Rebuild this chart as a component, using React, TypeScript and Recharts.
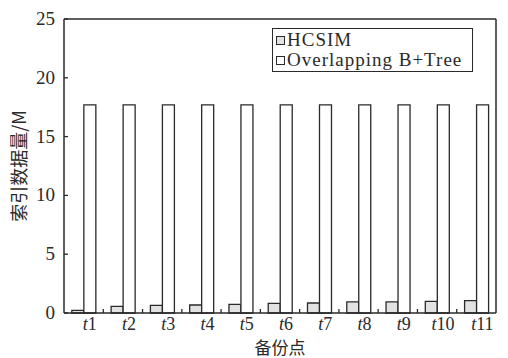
import React from 'react';
import {
  BarChart,
  Bar,
  XAxis,
  YAxis,
  ReferenceLine,
} from 'recharts';

const points = ['t1', 't2', 't3', 't4', 't5', 't6', 't7', 't8', 't9', 't10', 't11'];
const hcsim = [0.23, 0.57, 0.65, 0.68, 0.74, 0.82, 0.85, 0.94, 0.94, 0.99, 1.05];
const overlapping = [17.7, 17.7, 17.7, 17.7, 17.7, 17.7, 17.7, 17.7, 17.7, 17.7, 17.7];
const yTicks = [0, 5, 10, 15, 20, 25];

const data = points.map((name, i) => ({
  name,
  hcsim: hcsim[i],
  overlapping: overlapping[i],
}));

const SERIF = '"Liberation Serif", "DejaVu Serif", serif';
const CJK = '"Noto Sans CJK SC", sans-serif';
const INK = '#2a2a2a';

const CHART_W = 508;
const CHART_H = 358;
const MARGIN = { top: 19, right: 12, left: 0, bottom: 0 };
const Y_AXIS_W = 64;
const X_AXIS_H = 45;
const PLOT_W = CHART_W - MARGIN.left - MARGIN.right - Y_AXIS_W;
const PLOT_BOTTOM = CHART_H - MARGIN.bottom - X_AXIS_H;
const HALF_BAND = PLOT_W / points.length / 2;

// "t1" style labels: italic t followed by an upright number,
// plus a short inward mark on the boundary left of each point
const PointTick = (props: any) => {
  const { x, y, payload, index } = props;
  const label: string = payload.value;
  const bx = x - HALF_BAND;
  return (
    <g>
      {index > 0 && (
        <line x1={bx} x2={bx} y1={PLOT_BOTTOM} y2={PLOT_BOTTOM - 4} stroke={INK} strokeWidth={1.3} />
      )}
      <text x={x + 6} y={y + 9} textAnchor="middle" fontFamily={SERIF} fontSize={18} fill={INK}>
        <tspan fontStyle="italic">{label.charAt(0)}</tspan>
        <tspan>{label.slice(1)}</tspan>
      </text>
    </g>
  );
};

// value label plus an inward mark on the y axis
const ValueTick = (props: any) => {
  const { x, y, payload } = props;
  return (
    <g>
      <line x1={x} x2={x + 4} y1={y} y2={y} stroke={INK} strokeWidth={1.3} />
      <text x={x - 9} y={y + 6} textAnchor="end" fontFamily={SERIF} fontSize={19} fill={INK}>
        {payload.value}
      </text>
    </g>
  );
};

const legendItems = [
  { name: 'HCSIM', fill: '#e2e2e2' },
  { name: 'Overlapping B+Tree', fill: '#fff' },
];

const LegendBox = () => (
  <div
    style={{
      position: 'absolute',
      left: 272,
      top: 28,
      width: 193,
      border: `1.5px solid ${INK}`,
      padding: '1px 3px 1px 3px',
      fontFamily: SERIF,
      fontSize: 19,
      letterSpacing: 1,
      lineHeight: '20px',
      color: INK,
      background: '#fff',
      whiteSpace: 'nowrap',
    }}
  >
    {legendItems.map((item) => (
      <div key={item.name} style={{ display: 'flex', alignItems: 'center' }}>
        <span
          style={{
            display: 'inline-block',
            flexShrink: 0,
            width: 9,
            height: 9,
            border: `1.3px solid ${INK}`,
            background: item.fill,
            marginRight: 2,
            boxSizing: 'border-box',
          }}
        />
        {item.name}
      </div>
    ))}
  </div>
);

export default function App() {
  return (
    <div style={{ position: 'absolute', left: 0, top: 0, width: CHART_W, height: CHART_H, background: '#fff' }}>
      <BarChart
        width={CHART_W}
        height={CHART_H}
        data={data}
        margin={MARGIN}
        barCategoryGap="20%"
        barGap={0}
      >
        <XAxis
          dataKey="name"
          height={X_AXIS_H}
          axisLine={{ stroke: INK, strokeWidth: 1.5 }}
          tickLine={false}
          tickSize={6}
          tickMargin={2}
          tick={<PointTick />}
          interval={0}
          label={{
            value: '备份点',
            position: 'insideBottom',
            offset: 4,
            style: { fontFamily: CJK, fontSize: 17, fill: INK },
          }}
        />
        <YAxis
          width={Y_AXIS_W}
          domain={[0, 25]}
          ticks={yTicks}
          axisLine={{ stroke: INK, strokeWidth: 1.5 }}
          tickLine={false}
          tickSize={0}
          tickMargin={0}
          tick={<ValueTick />}
          label={{
            value: '索引数据量/M',
            angle: -90,
            position: 'insideLeft',
            offset: 20,
            style: { fontFamily: CJK, fontSize: 18, fill: INK, textAnchor: 'middle' },
          }}
        />
        {/* frame: top and right edges */}
        <ReferenceLine y={25} stroke={INK} strokeWidth={1.5} />
        <ReferenceLine x="t11" position="end" stroke={INK} strokeWidth={1.5} />
        <Bar
          dataKey="hcsim"
          name="HCSIM"
          fill="#e2e2e2"
          stroke={INK}
          strokeWidth={1.3}
          isAnimationActive={false}
        />
        <Bar
          dataKey="overlapping"
          name="Overlapping B+Tree"
          fill="#fff"
          stroke={INK}
          strokeWidth={1.3}
          isAnimationActive={false}
        />
      </BarChart>
      <LegendBox />
    </div>
  );
}
